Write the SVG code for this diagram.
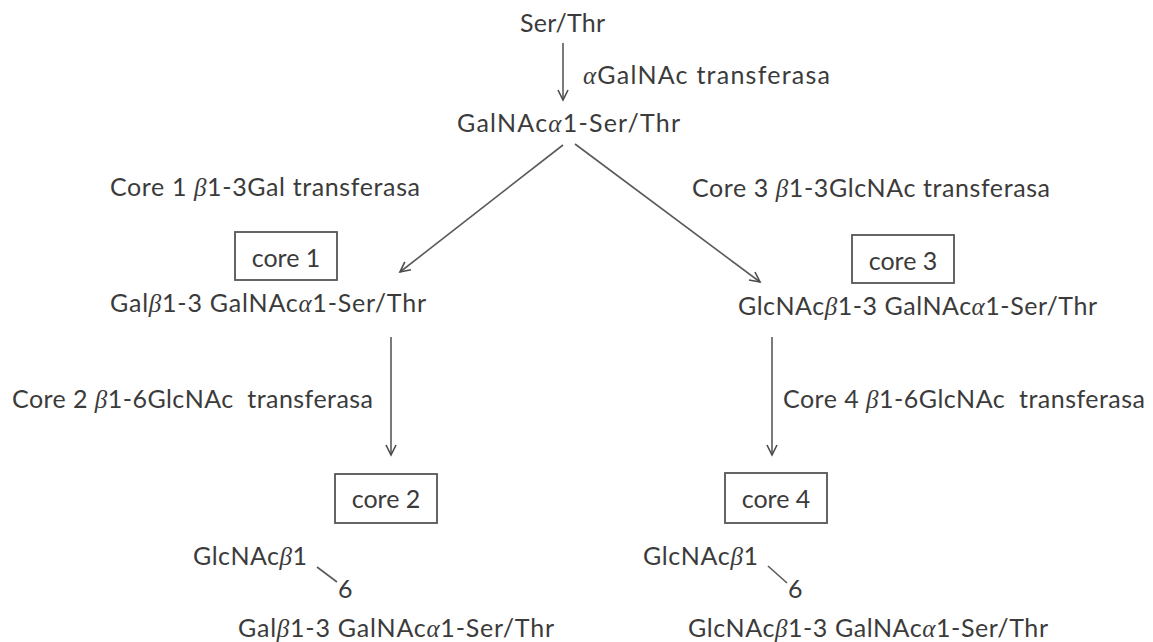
<svg xmlns="http://www.w3.org/2000/svg" width="1153" height="642" viewBox="0 0 1153 642">
<style>
text{font-family:Lato,"Open Sans","Liberation Sans",sans-serif;font-size:25px;fill:#3b3b3b}
.g{font-family:"Liberation Serif","DejaVu Serif",serif;font-style:italic}
.box{fill:none;stroke:#555;stroke-width:1.8}
.c{stroke:#5a5a5a;stroke-width:1.6;fill:none}
</style>
<defs>
<marker id="ah" markerUnits="userSpaceOnUse" markerWidth="14" markerHeight="14" refX="11" refY="6" orient="auto">
<path d="M1,1 L11,6 L1,11" fill="none" stroke="#4a4a4a" stroke-width="1.6"/>
</marker>
</defs>
<rect width="1153" height="642" fill="#fff"/>
<g id="connectors">
<line class="c" x1="563" y1="43" x2="563" y2="100" marker-end="url(#ah)"/>
<line class="c" x1="563" y1="145" x2="400" y2="272" marker-end="url(#ah)"/>
<line class="c" x1="575" y1="144" x2="760" y2="282" marker-end="url(#ah)"/>
<line class="c" x1="391" y1="337" x2="391" y2="455" marker-end="url(#ah)"/>
<line class="c" x1="772" y1="337" x2="772" y2="455" marker-end="url(#ah)"/>
</g>
<g id="n-serthr"><text x="520" y="32" textLength="85">Ser/Thr</text></g>
<g id="l-agalnac"><text x="583" y="84" textLength="247"><tspan class="g">α</tspan>GalNAc transferasa</text></g>
<g id="n-galnac"><text x="457" y="132" textLength="223"><tspan>GalNAc</tspan><tspan class="g">α</tspan><tspan>1-Ser/Thr</tspan></text></g>
<g id="l-core1t"><text x="110" y="196" textLength="310">Core 1 <tspan class="g">β</tspan>1-3Gal transferasa</text></g>
<g id="l-core3t"><text x="692" y="197" textLength="358">Core 3 <tspan class="g">β</tspan>1-3GlcNAc transferasa</text></g>
<g id="n-core1">
<rect class="box" x="235" y="232" width="102" height="48"/>
<text x="286" y="267" text-anchor="middle">core 1</text>
<text x="110" y="312" textLength="316">Gal<tspan class="g">β</tspan>1-3 GalNAc<tspan class="g">α</tspan>1-Ser/Thr</text>
</g>
<g id="n-core3">
<rect class="box" x="852" y="235" width="102" height="48"/>
<text x="903" y="270" text-anchor="middle">core 3</text>
<text x="738" y="315" textLength="359">GlcNAc<tspan class="g">β</tspan>1-3 GalNAc<tspan class="g">α</tspan>1-Ser/Thr</text>
</g>
<g id="l-core2t"><text x="12" y="408" textLength="361" xml:space="preserve">Core 2 <tspan class="g">β</tspan>1-6GlcNAc  transferasa</text></g>
<g id="l-core4t"><text x="783" y="408" textLength="362" xml:space="preserve">Core 4 <tspan class="g">β</tspan>1-6GlcNAc  transferasa</text></g>
<g id="n-core2">
<rect class="box" x="335" y="474" width="102" height="49"/>
<text x="386" y="508" text-anchor="middle">core 2</text>
<text x="193" y="565" textLength="114">GlcNAc<tspan class="g">β</tspan>1</text>
<line class="c" x1="317" y1="567" x2="337" y2="582"/>
<text x="338" y="598">6</text>
<text x="238" y="637" textLength="316">Gal<tspan class="g">β</tspan>1-3 GalNAc<tspan class="g">α</tspan>1-Ser/Thr</text>
</g>
<g id="n-core4">
<rect class="box" x="725" y="473" width="102" height="50"/>
<text x="776" y="508" text-anchor="middle">core 4</text>
<text x="643" y="565" textLength="115">GlcNAc<tspan class="g">β</tspan>1</text>
<line class="c" x1="768" y1="566" x2="787" y2="583"/>
<text x="788" y="598">6</text>
<text x="688" y="637" textLength="360">GlcNAc<tspan class="g">β</tspan>1-3 GalNAc<tspan class="g">α</tspan>1-Ser/Thr</text>
</g>
</svg>
